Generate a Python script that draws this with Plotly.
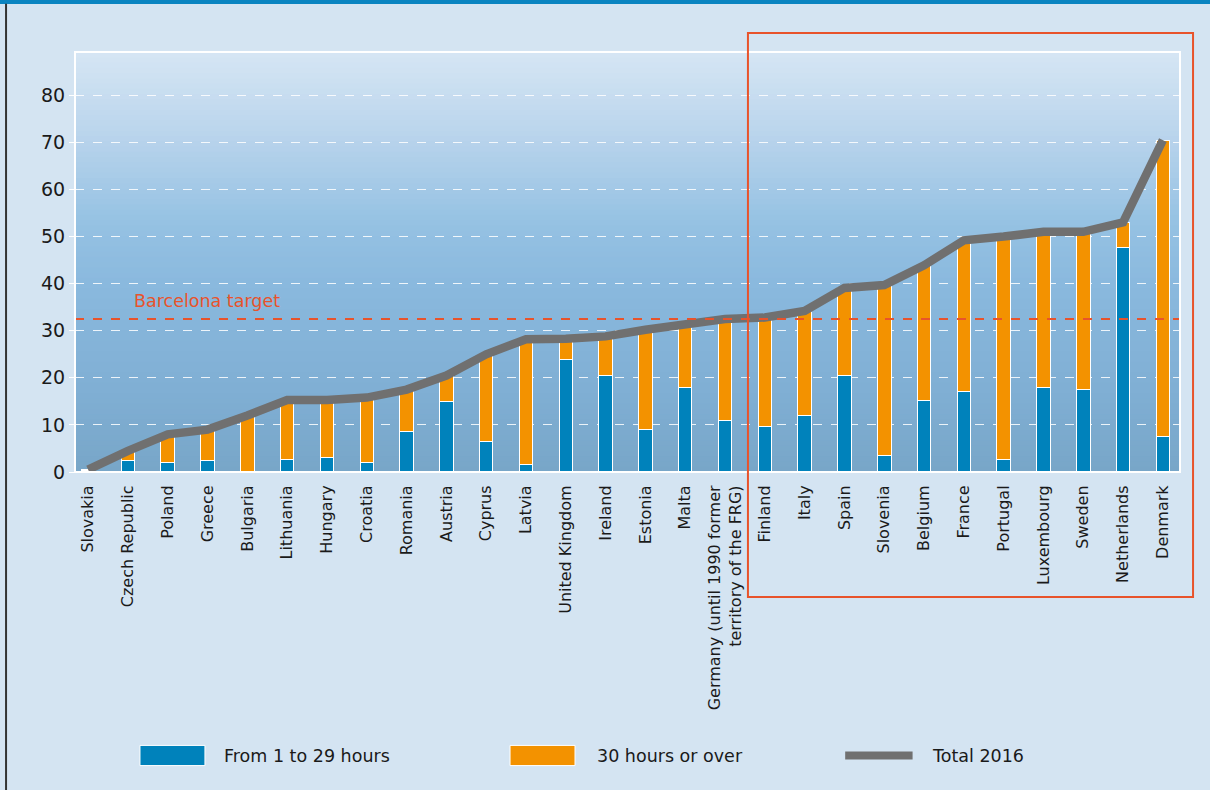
import plotly.graph_objects as go

countries = ["Slovakia", "Czech Republic", "Poland", "Greece", "Bulgaria", "Lithuania",
             "Hungary", "Croatia", "Romania", "Austria", "Cyprus", "Latvia",
             "United Kingdom", "Ireland", "Estonia", "Malta",
             "Germany (until 1990 former<br>territory of the FRG)",
             "Finland", "Italy", "Spain", "Slovenia", "Belgium", "France",
             "Portugal", "Luxembourg", "Sweden", "Netherlands", "Denmark"]
hours_1_29 = [0.3, 2.5, 2.1, 2.5, 0.0, 2.6, 3.1, 2.1, 8.5, 15.0, 6.5, 1.6,
              23.9, 20.4, 9.1, 18.0, 11.0, 9.6, 12.1, 20.6, 3.6, 15.1, 17.0,
              2.7, 18.0, 17.6, 47.7, 7.6]
hours_30_plus = [0.2, 2.0, 5.9, 6.5, 12.0, 12.7, 12.2, 13.7, 9.0, 5.5, 18.5, 26.6,
                 4.4, 8.4, 21.1, 13.2, 21.5, 23.2, 22.1, 18.5, 36.1, 28.8, 32.2,
                 47.4, 33.0, 33.4, 5.3, 62.9]
total_2016 = [0.5, 4.5, 8.0, 9.0, 12.0, 15.3, 15.3, 15.8, 17.5, 20.5, 25.0, 28.2,
              28.3, 28.8, 30.2, 31.2, 32.5, 32.8, 34.2, 39.1, 39.7, 43.9, 49.2,
              50.0, 51.0, 51.0, 53.0, 70.5]
barcelona_target = 32.5
y_ticks = [0, 10, 20, 30, 40, 50, 60, 70, 80]

n = len(countries)
xs = list(range(n))

BLUE = "#0082bb"
ORANGE = "#f39200"
GREY = "#707070"
RED = "#e8532b"
FONT = "DejaVu Sans"

fig = go.Figure()
fig.add_trace(go.Bar(x=xs, y=hours_1_29, name="From 1 to 29 hours",
                     marker=dict(color=BLUE, line=dict(color="white", width=1)),
                     width=0.34, showlegend=False))
fig.add_trace(go.Bar(x=xs, y=hours_30_plus, name="30 hours or over",
                     marker=dict(color=ORANGE, line=dict(color="white", width=1)),
                     width=0.34, showlegend=False))
fig.add_trace(go.Scatter(x=xs, y=total_2016, name="Total 2016", mode="lines",
                         line=dict(color=GREY, width=8.5), showlegend=False))

shapes = []
# gradient background of plot area
stops = [(0.0, (120, 166, 200)), (0.2, (128, 175, 212)), (0.45, (138, 185, 222)),
         (0.6, (150, 194, 227)), (0.8, (185, 212, 236)), (1.0, (214, 230, 244))]

def col_at(t):
    for (t0, c0), (t1, c1) in zip(stops[:-1], stops[1:]):
        if t0 <= t <= t1:
            f = (t - t0) / (t1 - t0)
            return "rgb(%d,%d,%d)" % tuple(round(a + (b - a) * f) for a, b in zip(c0, c1))
    return "rgb(%d,%d,%d)" % stops[-1][1]

N = 80
for i in range(N):
    y0 = i / N
    y1 = (i + 1) / N + 0.002
    shapes.append(dict(type="rect", xref="x domain", yref="y domain", x0=0, x1=1,
                       y0=y0, y1=min(y1, 1), fillcolor=col_at((i + 0.5) / N),
                       line=dict(width=0), layer="below"))

# Barcelona target line
shapes.append(dict(type="line", xref="x domain", yref="y", x0=0, x1=1,
                   y0=barcelona_target, y1=barcelona_target,
                   line=dict(color=RED, width=2, dash="dash")))
# plot frame
shapes.append(dict(type="rect", xref="paper", yref="paper", x0=0, x1=1, y0=0, y1=1,
                   line=dict(color="white", width=2)))
# highlight rectangle
shapes.append(dict(type="rect", xref="paper", yref="paper", x0=0.609, x1=1.0118,
                   y0=-0.2976, y1=1.045, line=dict(color=RED, width=2)))
# top blue band and left dark line
shapes.append(dict(type="rect", xref="paper", yref="paper", x0=-0.07, x1=1.03,
                   y0=1.1145, y1=1.13, fillcolor="#0a84c1", line=dict(width=0)))
shapes.append(dict(type="line", xref="paper", yref="paper", x0=-0.0624, x1=-0.0624,
                   y0=1.115, y1=-0.77, line=dict(color="#333333", width=2)))

# manual legend
ly0, ly1 = -0.651, -0.699
shapes.append(dict(type="rect", xref="paper", yref="paper", x0=0.0588, x1=0.1176,
                   y0=ly1, y1=ly0, fillcolor=BLUE, line=dict(color="white", width=1)))
shapes.append(dict(type="rect", xref="paper", yref="paper", x0=0.3937, x1=0.4525,
                   y0=ly1, y1=ly0, fillcolor=ORANGE, line=dict(color="white", width=1)))
shapes.append(dict(type="line", xref="paper", yref="paper", x0=0.697, x1=0.758,
                   y0=-0.675, y1=-0.675, line=dict(color=GREY, width=8)))

annotations = [
    dict(text="Barcelona target", xref="paper", yref="y", x=0.052, y=36.3,
         xanchor="left", yanchor="middle", showarrow=False,
         font=dict(family=FONT, size=17.5, color=RED)),
    dict(text="From 1 to 29 hours", xref="paper", yref="paper", x=0.133, y=-0.675,
         xanchor="left", yanchor="middle", showarrow=False,
         font=dict(family=FONT, size=17.5, color="#1a1a1a")),
    dict(text="30 hours or over", xref="paper", yref="paper", x=0.4706, y=-0.675,
         xanchor="left", yanchor="middle", showarrow=False,
         font=dict(family=FONT, size=17.5, color="#1a1a1a")),
    dict(text="Total 2016", xref="paper", yref="paper", x=0.7738, y=-0.675,
         xanchor="left", yanchor="middle", showarrow=False,
         font=dict(family=FONT, size=17.5, color="#1a1a1a")),
]

fig.update_layout(
    width=1210, height=790,
    margin=dict(l=75, r=30, t=52, b=318),
    paper_bgcolor="#d4e4f2",
    plot_bgcolor="#8ab9de",
    barmode="stack",
    shapes=shapes,
    annotations=annotations,
    font=dict(family=FONT, color="#1a1a1a"),
    xaxis=dict(tickmode="array", tickvals=xs, ticktext=countries, tickangle=-90,
               range=[-0.33, n - 1 + 0.43], showgrid=False, zeroline=False,
               tickfont=dict(family=FONT, size=16, color="#1a1a1a"),
               ticks="outside", ticklen=6, tickcolor="rgba(0,0,0,0)"),
    yaxis=dict(range=[0, 89.2], tickvals=y_ticks, showgrid=True,
               gridcolor="rgba(255,255,255,0.85)", griddash="dash", gridwidth=1,
               zeroline=False, ticks="outside", ticklen=5, tickcolor="white",
               tickfont=dict(family=FONT, size=19, color="#1a1a1a")),
)

fig.write_html("out.html", config={"displayModeBar": False},
               post_script="document.body.style.margin='0';document.body.style.overflow='hidden';")
